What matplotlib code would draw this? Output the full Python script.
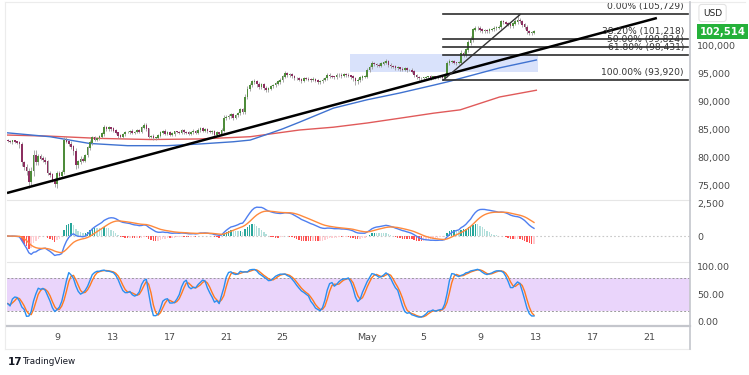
"""
BTC/USD 4H chart with fib retracement, MACD and stochastic panels.
"""

import matplotlib
matplotlib.use("Agg")
import matplotlib.pyplot as plt
import matplotlib.patches as patches
from matplotlib.lines import Line2D
import numpy as np
import pandas as pd

# ── data (prices in thousands of USD, time in days since Mar 31) ─────────
first_candle = 5.5          # Apr 5, 12:00
candle_step = 1 / 6         # 4H candles

closes = [
    83.0, 82.8, 83.1,                                # Apr 5
    82.9, 82.7, 82.5, 79.2, 78.4, 77.6,              # Apr 6
    75.8, 77.6, 80.5, 79.2, 80.3, 79.9,              # Apr 7
    79.6, 79.3, 77.3, 77.0, 76.1, 75.3,              # Apr 8
    77.3, 76.8, 77.5, 83.2, 82.9, 82.5,              # Apr 9
    82.0, 81.2, 78.8, 79.3, 79.8, 79.5,              # Apr 10
    80.5, 81.8, 82.7, 83.6, 83.3, 83.5,              # Apr 11
    83.8, 84.3, 85.4, 85.1, 85.4, 85.2,              # Apr 12
    84.9, 84.5, 84.0, 83.8, 84.2, 84.6,              # Apr 13
    84.6, 84.8, 84.4, 84.6, 84.9, 84.7,              # Apr 14
    85.4, 85.9, 85.2, 83.8, 83.9, 83.6,              # Apr 15
    83.6, 84.0, 84.5, 84.8, 84.3, 84.6,              # Apr 16
    84.1, 84.3, 84.7, 84.6, 84.5, 84.9,              # Apr 17
    84.6, 84.5, 84.3, 84.6, 84.8, 84.5,              # Apr 18
    85.0, 85.3, 84.9, 85.1, 84.8, 84.6,              # Apr 19
    84.8, 84.1, 84.5, 84.3, 84.9, 87.1,              # Apr 20
    87.3, 87.5, 87.7, 87.2, 87.6, 88.0,              # Apr 21
    88.6, 88.2, 90.9, 92.3, 93.0, 93.6,              # Apr 22
    93.6, 93.2, 92.7, 93.1, 92.5, 92.1,              # Apr 23
    92.4, 92.8, 93.0, 93.3, 93.6, 93.9,              # Apr 24
    94.5, 95.1, 94.8, 94.9, 94.6, 94.2,              # Apr 25
    94.2, 94.0, 93.8, 94.2, 94.1, 94.0,              # Apr 26
    93.9, 94.1, 93.8, 93.6, 93.7, 93.9,              # Apr 27
    94.2, 94.8, 94.6, 94.5, 94.4, 94.8,              # Apr 28
    94.8, 94.6, 94.9, 94.8, 94.7, 94.5,              # Apr 29
    94.2, 93.7, 93.9, 94.3, 94.5, 94.5,              # Apr 30
    95.7, 96.2, 96.9, 96.7, 96.6, 96.5,              # May 1
    96.8, 97.0, 97.2, 96.6, 96.4, 96.3,              # May 2
    96.0, 96.1, 95.9, 95.8, 96.0, 95.7,              # May 3
    95.7, 95.4, 94.8, 94.4, 94.2, 94.2,              # May 4
    94.3, 94.4, 94.5, 94.3, 94.5, 94.3,              # May 5
    94.4, 94.5, 94.3, 94.8, 96.9, 97.2,              # May 6
    97.2, 97.0, 96.9, 97.0, 98.7, 98.4,              # May 7
    99.3, 100.6, 101.1, 102.9, 103.2, 103.2,         # May 8
    102.9, 102.6, 102.7, 102.6, 102.9, 103.0,        # May 9
    103.2, 103.3, 103.4, 104.3, 104.2, 104.0,        # May 10
    103.8, 103.6, 104.0, 104.3, 104.6, 104.4,        # May 11
    103.8, 103.4, 102.6, 102.3, 102.4, 102.514,      # May 12
]
first_open = 83.2

# wick lengths above / below the body, in hundreds of USD
upper_wicks = [
    2, 3, 2,
    2, 2, 3, 4, 3, 5,   6, 8, 9, 10, 5, 4,   4, 5, 3, 4, 3, 3,
    4, 3, 4, 6, 5, 4,   5, 4, 6, 4, 5, 3,   3, 4, 5, 4, 3, 3,
    3, 4, 5, 3, 3, 2,   3, 3, 2, 3, 3, 2,   3, 2, 3, 2, 3, 2,
    3, 4, 3, 2, 2, 3,   2, 3, 3, 2, 3, 2,   2, 3, 2, 2, 3, 2,
    2, 2, 3, 2, 3, 2,   3, 2, 2, 3, 2, 2,   2, 2, 3, 2, 4, 5,
    4, 3, 4, 3, 3, 3,   3, 4, 5, 5, 4, 4,   5, 3, 4, 3, 3, 3,
    3, 3, 3, 3, 3, 3,   4, 5, 3, 3, 3, 3,   3, 2, 3, 3, 2, 3,
    3, 3, 2, 3, 2, 3,   3, 4, 3, 3, 2, 3,   3, 4, 3, 2, 3, 2,
    3, 2, 3, 3, 3, 3,   4, 4, 5, 3, 3, 3,   3, 3, 4, 3, 3, 2,
    3, 3, 2, 3, 3, 2,   2, 3, 3, 2, 3, 2,   2, 3, 2, 3, 2, 2,
    2, 3, 2, 4, 5, 4,   3, 3, 2, 3, 5, 4,   4, 5, 6, 4, 4, 3,
    3, 3, 3, 4, 3, 3,   3, 3, 4, 4, 3, 3,   3, 4, 3, 5, 11, 4,
    3, 3, 4, 3, 3, 3,
]
lower_wicks = [
    2, 2, 3,
    3, 2, 8, 6, 5, 6,   12, 6, 8, 5, 4, 3,  3, 4, 3, 4, 4, 5,
    6, 5, 3, 4, 3, 4,   4, 6, 8, 5, 4, 3,   3, 3, 4, 3, 3, 2,
    2, 3, 3, 3, 2, 3,   3, 3, 4, 3, 2, 2,   2, 3, 2, 2, 2, 3,
    2, 3, 4, 3, 3, 3,   3, 2, 2, 3, 2, 2,   2, 2, 3, 2, 2, 3,
    3, 2, 2, 2, 3, 2,   2, 3, 2, 2, 3, 2,   3, 4, 2, 3, 2, 3,
    3, 4, 3, 4, 3, 3,   3, 4, 3, 4, 3, 3,   4, 5, 3, 4, 4, 3,
    3, 3, 3, 3, 3, 3,   3, 3, 4, 3, 3, 3,   3, 3, 4, 3, 2, 3,
    3, 2, 3, 4, 3, 3,   2, 3, 3, 2, 3, 3,   3, 3, 2, 3, 3, 4,
    5, 6, 4, 3, 3, 3,   3, 3, 3, 3, 3, 3,   3, 2, 3, 3, 3, 3,
    3, 3, 3, 2, 3, 3,   2, 3, 3, 3, 3, 2,   2, 2, 2, 3, 2, 2,
    2, 2, 3, 2, 3, 3,   3, 3, 3, 2, 3, 4,   3, 3, 4, 3, 3, 3,
    4, 3, 3, 3, 3, 3,   3, 3, 3, 3, 3, 3,   3, 3, 3, 3, 3, 3,
    4, 4, 5, 3, 3, 3,
]

# moving averages
blue_ma_days = [5.45, 8.5, 11.3, 14.0, 16.8, 19.1, 21.5, 22.7, 23.4, 24.1,
                25.0, 26.2, 28.6, 31.0, 33.3, 35.7, 36.7, 40.4, 43.0]
blue_ma_vals = [84.5, 83.8, 82.6, 82.2, 82.2, 82.5, 82.9, 83.2, 83.8, 84.4,
                85.2, 86.4, 88.9, 90.4, 91.6, 93.0, 93.6, 96.1, 97.5]
red_ma_days = [5.45, 8.5, 12.0, 15.6, 19.1, 22.7, 26.2, 28.6, 31.0, 33.3,
               35.7, 37.6, 40.4, 43.0]
red_ma_vals = [84.1, 83.9, 83.5, 83.3, 83.4, 83.8, 85.0, 85.5, 86.25, 87.1,
               88.0, 88.6, 90.9, 92.1]

# drawings
trend_days = [5.45, 51.55]
trend_vals = [73.75, 105.0]
swing_days = [36.4, 41.84]
swing_vals = [93.92, 105.6]
fib_pcts = ["0.00%", "38.20%", "50.00%", "61.80%", "100.00%"]
fib_levels = [105.729, 101.218, 99.824, 98.431, 93.920]
fib_start, fib_end = 36.4, 53.75
zone_days = [29.78, 43.1]
zone_vals = [95.36, 98.57]

price_ticks = [75, 80, 85, 90, 95, 100]
date_ticks = [9, 13, 17, 21, 25, 31, 35, 39, 43, 47, 51]
date_labels = ["9", "13", "17", "21", "25", "May", "5", "9", "13", "17", "21"]
last_price = 102514

# ── derived series ───────────────────────────────────────────────────────
n = len(closes)
t = first_candle + np.arange(n) * candle_step
c = np.array(closes)
o = np.concatenate([[first_open], c[:-1]])
hi = np.maximum(o, c) + np.array(upper_wicks) / 10
lo = np.minimum(o, c) - np.array(lower_wicks) / 10

cs = pd.Series(c * 1000)
macd = cs.ewm(span=12, adjust=False).mean() - cs.ewm(span=26, adjust=False).mean()
signal = macd.ewm(span=9, adjust=False).mean()
hist = macd - signal
hist_scale = 1.3  # histogram sits on its own, slightly taller scale in the reference

hh = pd.Series(hi * 1000).rolling(14, min_periods=1).max()
ll = pd.Series(lo * 1000).rolling(14, min_periods=1).min()
raw_k = 100 * (cs - ll) / (hh - ll)
stoch_k = raw_k.rolling(3, min_periods=1).mean()
stoch_d = stoch_k.rolling(3, min_periods=1).mean()

# ── figure layout (pixel helpers) ────────────────────────────────────────
W, H = 749, 375
plt.rcParams["font.family"] = ["DejaVu Sans"]
fig = plt.figure(figsize=(W / 100, H / 100), dpi=100)


def fx(px):
    return px / W


def fy(py):
    return 1 - py / H


left, right = 7, 690
ax = fig.add_axes([fx(left), fy(200), fx(right) - fx(left), (200 - 4) / H])
ax_m = fig.add_axes([fx(left), fy(262), fx(right) - fx(left), 62 / H])
ax_s = fig.add_axes([fx(left), fy(326), fx(right) - fx(left), 64 / H])

xlim = (5.45, 53.9)
label_color = "#4a4a4a"
for a in (ax, ax_m, ax_s):
    a.set_xlim(*xlim)
    for s in a.spines.values():
        s.set_visible(False)
    a.yaxis.tick_right()
    a.tick_params(axis="y", length=0, pad=5, labelsize=6.8, labelcolor=label_color)
    a.tick_params(axis="x", length=0)
    a.set_xticks([])

# ── main panel ───────────────────────────────────────────────────────────
ax.set_ylim(72.5, 107.5)
ax.set_yticks(price_ticks)
ax.set_yticklabels([f"{v * 1000:,.0f}" for v in price_ticks])

ax.add_patch(patches.Rectangle((zone_days[0], zone_vals[0]),
                               zone_days[1] - zone_days[0],
                               zone_vals[1] - zone_vals[0],
                               facecolor="#d9e2fb", edgecolor="none", zorder=1))

ax.plot(red_ma_days, red_ma_vals, color="#e05a5a", lw=1, zorder=2)
ax.plot(blue_ma_days, blue_ma_vals, color="#3f72d0", lw=1, zorder=2)

up = c >= o
body_col = np.where(up, "#4e8c3a", "#8c2f60")
ax.vlines(t, lo, hi, color="#9a9a9a", lw=0.6, zorder=3)
ax.bar(t, np.abs(c - o) + 0.08, bottom=np.minimum(o, c), width=candle_step * 0.7,
       color=body_col, zorder=4, linewidth=0)

for lvl in fib_levels:
    ax.plot([fib_start, fib_end], [lvl, lvl], color="#2e2e2e", lw=1.2, zorder=5)
for pct, lvl in zip(fib_pcts, fib_levels):
    ax.annotate(f"{pct} ({lvl * 1000:,.0f})", (53.47, lvl), xytext=(0, 2.2),
                textcoords="offset points", ha="right", va="bottom",
                fontsize=6.6, color="#333333", zorder=6)

ax.plot(trend_days, trend_vals, color="black", lw=1.8, zorder=5, solid_capstyle="butt")
ax.plot(swing_days, swing_vals, color="#333333", lw=1.0, zorder=5)

# last price tag and currency box
ax.annotate(f"{last_price:,}", (1.0, last_price / 1000), xycoords=("axes fraction", "data"),
            xytext=(7, 0), textcoords="offset points", ha="left", va="center",
            fontsize=7.2, color="white", fontweight="bold",
            bbox=dict(boxstyle="square,pad=0.25", fc="#25b13a", ec="none"),
            annotation_clip=False)
fig.text(fx(703), fy(13), "USD", fontsize=6.5, color="#222222", va="center",
         bbox=dict(boxstyle="round,pad=0.45,rounding_size=0.3", fc="white", ec="#e3e3e3", lw=0.8))

# ── MACD panel ───────────────────────────────────────────────────────────
ax_m.set_ylim(-1970, 2730)
ax_m.set_yticks([0, 2500])
ax_m.set_yticklabels(["0", "2,500"])
ax_m.axhline(0, color="#c8c8c8", lw=0.8, ls=(0, (1.5, 2)), zorder=1)

hv = hist.values
prev = np.concatenate([[0], hv[:-1]])
hcol = np.where(hv >= 0,
                np.where(hv >= prev, "#26a69a", "#b2dfdb"),
                np.where(hv < prev, "#ff5252", "#ffcdd2"))
ax_m.bar(t, hv * hist_scale, width=candle_step * 0.6, color=hcol, linewidth=0, zorder=2)
ax_m.plot(t, macd.values, color="#4f7ff0", lw=1, zorder=3)
ax_m.plot(t, signal.values, color="#ff8a3d", lw=1, zorder=3)

# ── stochastic panel ─────────────────────────────────────────────────────
ax_s.set_ylim(-7.3, 109)
ax_s.set_yticks([0, 50, 100])
ax_s.set_yticklabels(["0.00", "50.00", "100.00"])
ax_s.axhspan(20, 80, color="#ead5fb", lw=0, zorder=0)
for lvl in (20, 80):
    ax_s.axhline(lvl, color="#9a9a9a", lw=0.7, ls=(0, (2, 2)), zorder=1)
ax_s.plot(t, stoch_k.values, color="#2a8ff0", lw=1, zorder=3)
ax_s.plot(t, stoch_d.values, color="#ff7a1f", lw=1, zorder=2)

ax_s.set_xticks(date_ticks)
ax_s.set_xticklabels(date_labels)
ax_s.tick_params(axis="x", length=0, pad=5, labelsize=6.8, labelcolor=label_color)

# ── frame lines ──────────────────────────────────────────────────────────
def hline(py, x0, x1, color, lw):
    fig.add_artist(Line2D([fx(x0), fx(x1)], [fy(py), fy(py)], color=color, lw=lw))


def vline(px, y0, y1, color, lw):
    fig.add_artist(Line2D([fx(px), fx(px)], [fy(y0), fy(y1)], color=color, lw=lw))


hline(2, 5, 745, "#ececec", 0.8)
vline(5, 2, 349, "#ececec", 0.8)
hline(200, left, right, "#e6e6e6", 0.8)
hline(262, left, right, "#e6e6e6", 0.8)
hline(326, left, right, "#c4c6cc", 1.6)
hline(349, 5, right, "#ececec", 0.8)
vline(right, 2, 349, "#c4c6cc", 1.2)

fig.text(fx(8), fy(362), "17", fontsize=7.5, fontweight="bold", color="#131722", va="center")
fig.text(fx(22), fy(362), "TradingView", fontsize=6.3, color="#131722", va="center")

fig.savefig("out.png", dpi=100)
